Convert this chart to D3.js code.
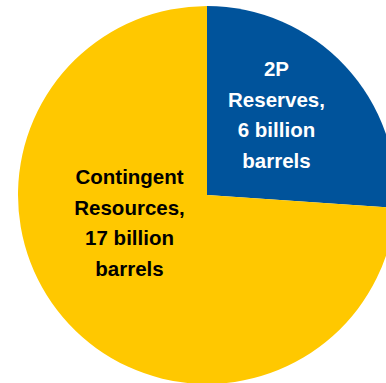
<!DOCTYPE html>
<html>
<head>
<meta charset="utf-8">
<script src="https://cdn.jsdelivr.net/npm/d3@7"></script>
<style>
  body { margin: 0; background: #fff; overflow: hidden; }
  svg { display: block; }
</style>
</head>
<body>
<div id="chart"></div>
<script>
// slice data
const categories = ["2P Reserves", "Contingent Resources"];
const values = [6, 17]; // billion barrels
const labelLines = [
    ["2P", "Reserves,", "6 billion", "barrels"],
    ["Contingent", "Resources,", "17 billion", "barrels"]
];

const width = 386, height = 383;
const cx = 207, cy = 195, radius = 189;

const color = d3.scaleOrdinal()
    .domain(categories)
    .range(["#00539B", "#FFC800"]);
const textColor = d3.scaleOrdinal()
    .domain(categories)
    .range(["#ffffff", "#000000"]);

const svg = d3.select("#chart")
    .append("svg")
    .attr("width", width)
    .attr("height", height);

const g = svg.append("g")
    .attr("transform", `translate(${cx},${cy})`);

const pie = d3.pie().sort(null).value(d => d.value);
const arcs = pie(categories.map((c, i) => ({ name: c, value: values[i], lines: labelLines[i] })));

const arc = d3.arc().innerRadius(0).outerRadius(radius);

g.selectAll("path")
    .data(arcs)
    .enter().append("path")
    .attr("d", arc)
    .attr("fill", d => color(d.data.name));

// labels were placed by hand in the original, so nudge them from the centroid
const labelArc = d3.arc().innerRadius(0).outerRadius(radius * 1.1);
const nudge = [[-6.5, -9], [-1.5, -43]];
const lineHeight = 30.8;

const label = g.selectAll("text")
    .data(arcs)
    .enter().append("text")
    .attr("text-anchor", "middle")
    .attr("fill", d => textColor(d.data.name))
    .style("font-family", "'Liberation Sans', Arial, sans-serif")
    .style("font-weight", "bold")
    .style("font-size", "20.5px")
    .attr("transform", (d, i) => {
        const [x, y] = labelArc.centroid(d);
        return `translate(${x + nudge[i][0]},${y + nudge[i][1]})`;
    });

label.selectAll("tspan")
    .data(d => d.data.lines)
    .enter().append("tspan")
    .attr("x", 0)
    .attr("y", (l, j, nodes) => (j - (nodes.length - 1) / 2) * lineHeight + 7)
    .text(l => l);
</script>
</body>
</html>
